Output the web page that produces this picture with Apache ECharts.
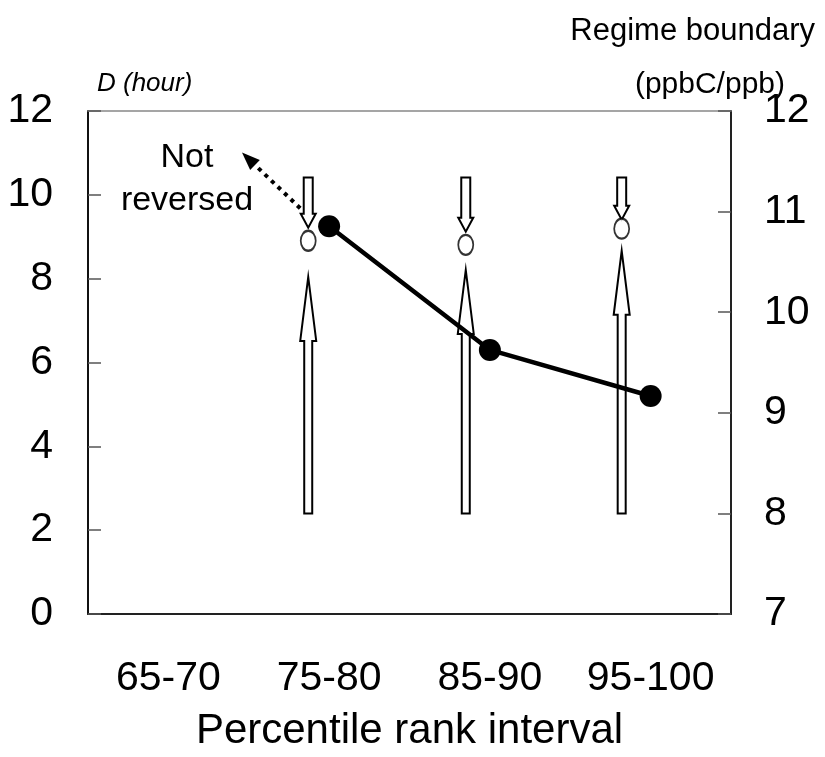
<!DOCTYPE html>
<html>
<head>
<meta charset="utf-8">
<script src="https://cdn.jsdelivr.net/npm/echarts@6/dist/echarts.min.js"></script>
<style>html,body{margin:0;padding:0;background:#fff;overflow:hidden}#c{width:825px;height:757px}</style>
</head>
<body>
<div id="c"></div>
<script>
// ---- data ----
const categories = ['65-70', '75-80', '85-90', '95-100'];
const leftTicks = { min: 0, max: 12, interval: 2 };
const rightTicks = { min: 7, max: 12, interval: 1 };
// D (hour), left axis, at category centres
const dValues = [null, 9.25, 6.3, 5.2];
// regime boundary (right axis) markers and arrows, x in category units (0..4)
const arrowX = [1.37, 2.35, 3.32];
const boundaryValues = [10.71, 10.67, 10.83];
const upFrom = [8.0, 8.0, 8.0];
const upTo = [10.35, 10.42, 10.61];
const downFrom = [11.34, 11.34, 11.34];
const downTo = [10.84, 10.80, 10.92];
// annotation: dotted arrow (left axis units) and its text
const noteArrow = [1.32, 9.68, 0.958, 11.01];
const notePos = [0.616, 10.38];
const noteText = 'Not\nreversed';

const FONT = 'Liberation Sans, Arial, sans-serif';
const chart = echarts.init(document.getElementById('c'), null, { renderer: 'canvas' });

const arrowData = arrowX.map((x, i) => [x, upFrom[i], upTo[i], downFrom[i], downTo[i]]);
const circleData = arrowX.map((x, i) => [x, boundaryValues[i]]);

function upArrow(x, yb, yt) {
  const hw = 4, hh = 8, hl = 64;
  const yh = yt + hl;
  return [[x - hw, yb], [x - hw, yh], [x - hh, yh], [x, yt], [x + hh, yh], [x + hw, yh], [x + hw, yb]];
}
function downArrow(x, ytop, ytip) {
  const hw = 4.5, hh = 7.5, hl = 14;
  const yh = ytip - hl;
  return [[x - hw, ytop], [x - hw, yh], [x - hh, yh], [x, ytip], [x + hh, yh], [x + hw, yh], [x + hw, ytop]];
}

const axisLabelStyle = { color: '#000', fontSize: 41, fontFamily: FONT };

chart.setOption({
  animation: false,
  backgroundColor: '#fff',
  grid: { left: 88, right: 94, top: 111, bottom: 135, containLabel: false },
  xAxis: [
    {
      type: 'category', data: categories, position: 'bottom', boundaryGap: true,
      axisLine: { lineStyle: { color: '#222', width: 2 } },
      axisTick: { inside: true, length: 13, interval: 0, lineStyle: { color: '#555', width: 1.5 } },
      axisLabel: Object.assign({ margin: 44, interval: 0 }, axisLabelStyle),
      name: 'Percentile rank interval', nameLocation: 'middle', nameGap: 96,
      nameTextStyle: { color: '#000', fontSize: 42, fontFamily: FONT },
      splitLine: { show: false }
    },
    {
      type: 'value', min: 0, max: 4, position: 'top',
      axisLine: { show: true, onZero: false, lineStyle: { color: '#888', width: 1.5 } },
      axisTick: { show: false }, axisLabel: { show: false }, splitLine: { show: false }
    }
  ],
  yAxis: [
    {
      type: 'value', min: leftTicks.min, max: leftTicks.max, interval: leftTicks.interval, position: 'left',
      axisLine: { show: true, lineStyle: { color: '#111', width: 2 } },
      axisTick: { show: true, inside: true, length: 13, lineStyle: { color: '#555', width: 1.5 } },
      axisLabel: Object.assign({ margin: 35 }, axisLabelStyle),
      splitLine: { show: false }
    },
    {
      type: 'value', min: rightTicks.min, max: rightTicks.max, interval: rightTicks.interval, position: 'right',
      axisLine: { show: true, lineStyle: { color: '#222', width: 2 } },
      axisTick: { show: true, inside: true, length: 13, lineStyle: { color: '#555', width: 1.5 } },
      axisLabel: Object.assign({ margin: 33 }, axisLabelStyle),
      splitLine: { show: false }
    }
  ],
  graphic: [
    { type: 'text', right: 10, top: 16, style: { text: 'Regime boundary', font: '31px ' + FONT, fill: '#000' } },
    { type: 'text', right: 40, top: 70, style: { text: '(ppbC/ppb)', font: '30px ' + FONT, fill: '#000' } },
    { type: 'text', left: 97, top: 71, style: { text: 'D (hour)', font: 'italic 26px ' + FONT, fill: '#000' } }
  ],
  series: [
    {
      type: 'custom', xAxisIndex: 1, yAxisIndex: 1, data: arrowData, z: 3,
      renderItem: function (params, api) {
        const x = api.coord([api.value(0), 0])[0];
        const yb = api.coord([0, api.value(1)])[1];
        const yt = api.coord([0, api.value(2)])[1];
        const yd0 = api.coord([0, api.value(3)])[1];
        const yd1 = api.coord([0, api.value(4)])[1];
        const st = { fill: '#fff', stroke: '#000', lineWidth: 2 };
        return {
          type: 'group', children: [
            { type: 'polygon', shape: { points: upArrow(x, yb, yt) }, style: st },
            { type: 'polygon', shape: { points: downArrow(x, yd0, yd1) }, style: st }
          ]
        };
      }
    },
    {
      type: 'scatter', xAxisIndex: 1, yAxisIndex: 1, data: circleData, z: 4,
      symbol: 'circle', symbolSize: [15, 20],
      itemStyle: { color: '#fff', borderColor: '#000', borderWidth: 2 }
    },
    {
      type: 'line', xAxisIndex: 0, yAxisIndex: 0, data: dValues, z: 5,
      symbol: 'circle', symbolSize: 22, showSymbol: true,
      lineStyle: { color: '#000', width: 4.5 },
      itemStyle: { color: '#000', borderColor: '#000', borderWidth: 0 }
    },
    {
      type: 'custom', xAxisIndex: 1, yAxisIndex: 0, z: 6,
      data: [[noteArrow[0], noteArrow[1], noteArrow[2], noteArrow[3], notePos[0], notePos[1]]],
      renderItem: function (params, api) {
        const p0 = api.coord([api.value(0), api.value(1)]);
        const p1 = api.coord([api.value(2), api.value(3)]);
        const tp = api.coord([api.value(4), api.value(5)]);
        const dx = p1[0] - p0[0], dy = p1[1] - p0[1];
        const len = Math.sqrt(dx * dx + dy * dy);
        const ux = dx / len, uy = dy / len;
        const hl = 18, hh = 7;
        const bx = p1[0] - ux * hl, by = p1[1] - uy * hl;
        return {
          type: 'group', children: [
            { type: 'line', shape: { x1: p0[0], y1: p0[1], x2: bx, y2: by },
              style: { stroke: '#000', lineWidth: 4, lineDash: [4, 5] } },
            { type: 'polygon', shape: { points: [[p1[0], p1[1]], [bx - uy * hh, by + ux * hh], [bx + uy * hh, by - ux * hh]] },
              style: { fill: '#000' } },
            { type: 'text', x: tp[0], y: tp[1],
              style: { text: noteText, font: '34px ' + FONT, fill: '#000', align: 'center', verticalAlign: 'middle', lineHeight: 43 } }
          ]
        };
      }
    }
  ]
});
</script>
</body>
</html>
